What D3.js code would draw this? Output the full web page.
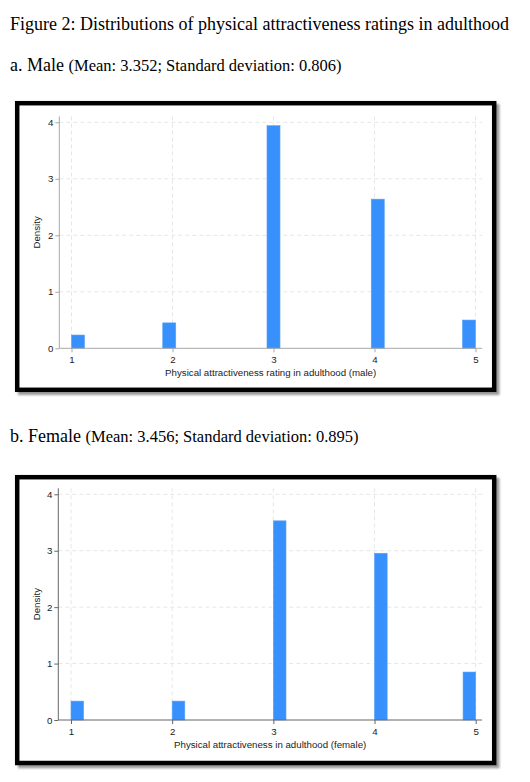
<!DOCTYPE html>
<html>
<head>
<meta charset="utf-8">
<script src="https://cdn.jsdelivr.net/npm/d3@7"></script>
<style>
  html, body { margin: 0; padding: 0; background: #fff; }
  svg { display: block; }
  .heading { font-family: "Liberation Serif", "Times New Roman", serif; fill: #000; }
  .axis-text { font-family: "Liberation Sans", Arial, sans-serif; font-size: 9.7px; fill: #222; }
</style>
</head>
<body>
<svg id="svg" width="530" height="782"></svg>
<script>
// Values
let ratings = [1, 2, 3, 4, 5];
let maleDensity = [0.235, 0.45, 3.94, 2.64, 0.50];
let femaleDensity = [0.335, 0.335, 3.53, 2.955, 0.85];
let maleBinCount = 31;
let femaleBinCount = 32;
let xTicks = [1, 2, 3, 4, 5];
let yTicks = [0, 1, 2, 3, 4];

let svg = d3.select("#svg");

svg.append("defs").append("filter").attr("id", "blur")
    .append("feGaussianBlur").attr("stdDeviation", 1.2);

//Page title
svg.append("text")
    .attr("class", "heading")
    .attr("x", 10)
    .attr("y", 30)
    .style("font-size", "18px")
    .text("Figure 2: Distributions of physical attractiveness ratings in adulthood");

//One Stata-like histogram panel (frame, grid, bars, axes)
function drawPanel(p) {
    //Sub heading
    let h = svg.append("text")
        .attr("class", "heading")
        .attr("x", 10)
        .attr("y", p.headY);
    h.append("tspan").style("font-size", "18px").text(p.label + " ");
    h.append("tspan").style("font-size", "16.5px").text(p.stats);

    //Frame with soft shadow
    svg.append("rect")
        .attr("x", p.frame[0] + 3).attr("y", p.frame[1] + 3)
        .attr("width", p.frame[2]).attr("height", p.frame[3])
        .attr("fill", "none").attr("stroke", "#9a9a9a").attr("stroke-width", 4.5)
        .attr("filter", "url(#blur)");
    svg.append("rect")
        .attr("x", p.frame[0]).attr("y", p.frame[1])
        .attr("width", p.frame[2]).attr("height", p.frame[3])
        .attr("fill", "#fff").attr("stroke", "#000").attr("stroke-width", 4.5);

    let x = d3.scaleLinear().domain([1, 5]).range(p.xRange);
    let y = d3.scaleLinear().domain([0, 4]).range(p.yRange);
    let g = svg.append("g");

    //Dashed grid
    g.selectAll(".vgrid").data(xTicks).enter().append("line")
        .attr("x1", d => x(d)).attr("x2", d => x(d))
        .attr("y1", p.axisTop).attr("y2", p.yRange[0])
        .attr("stroke", "#e6e6e6").attr("stroke-dasharray", "4,3");
    g.selectAll(".hgrid").data(yTicks.slice(1)).enter().append("line")
        .attr("x1", p.axisX).attr("x2", p.axisRight)
        .attr("y1", d => y(d)).attr("y2", d => y(d))
        .attr("stroke", "#e6e6e6").attr("stroke-dasharray", "4,3");

    //Bars: each rating sits in its histogram bin
    let w = 4 / p.bins;
    g.selectAll(".bar").data(ratings).enter().append("rect")
        .attr("x", function (d) {
            let i = Math.min(p.bins - 1, Math.floor((d - 1) / w + 1e-9));
            return x(1 + i * w);
        })
        .attr("width", x(1 + w) - x(1))
        .attr("y", (d, i) => y(p.values[i]))
        .attr("height", (d, i) => y(0) - y(p.values[i]))
        .attr("fill", "#3890fc")
        .attr("stroke", "#5aa2fb").attr("stroke-width", 0.6);

    //Axes
    let xAxis = d3.axisBottom(x).tickValues(xTicks).tickSize(4).tickPadding(4).tickFormat(d3.format("d"));
    let xg = g.append("g").attr("transform", "translate(0," + p.yRange[0] + ")").call(xAxis);
    xg.select(".domain").remove();
    xg.append("line").attr("x1", p.axisX).attr("x2", p.axisRight)
        .attr("stroke", p.axisColor);
    xg.selectAll(".tick line").attr("stroke", p.axisColor);
    xg.selectAll(".tick text").attr("class", "axis-text").attr("fill", null);

    let yAxis = d3.axisLeft(y).tickValues(yTicks).tickSize(4).tickPadding(2).tickFormat(d3.format("d"));
    let yg = g.append("g").attr("transform", "translate(" + p.axisX + ",0)").call(yAxis);
    yg.select(".domain").remove();
    yg.append("line").attr("y1", p.axisTop).attr("y2", p.yRange[0])
        .attr("stroke", p.axisColor);
    yg.selectAll(".tick line").attr("stroke", p.axisColor);
    yg.selectAll(".tick text").attr("class", "axis-text").attr("fill", null);

    //Axis titles
    g.append("text").attr("class", "axis-text")
        .attr("x", (p.axisX + p.axisRight) / 2)
        .attr("y", p.yRange[0] + 28)
        .attr("text-anchor", "middle")
        .text(p.xTitle);
    g.append("text").attr("class", "axis-text")
        .attr("transform", "translate(39.5," + (p.axisTop + p.yRange[0]) / 2 + ") rotate(-90)")
        .attr("text-anchor", "middle")
        .text("Density");
}

drawPanel({
    label: "a. Male",
    stats: "(Mean: 3.352; Standard deviation: 0.806)",
    headY: 70.5,
    frame: [17.2, 103.2, 477, 286.6],
    xRange: [71.5, 475.5],
    yRange: [348.3, 122.3],
    axisX: 59.3, axisRight: 482, axisTop: 116.5,
    axisColor: "#a8a8a8",
    bins: maleBinCount,
    values: maleDensity,
    xTitle: "Physical attractiveness rating in adulthood (male)"
});

drawPanel({
    label: "b. Female",
    stats: "(Mean: 3.456; Standard deviation: 0.895)",
    headY: 441.7,
    frame: [17.2, 477.2, 477, 285.8],
    xRange: [71, 475.7],
    yRange: [720, 494.3],
    axisX: 58.3, axisRight: 482, axisTop: 488.3,
    axisColor: "#666",
    bins: femaleBinCount,
    values: femaleDensity,
    xTitle: "Physical attractiveness in adulthood (female)"
});
</script>
</body>
</html>
